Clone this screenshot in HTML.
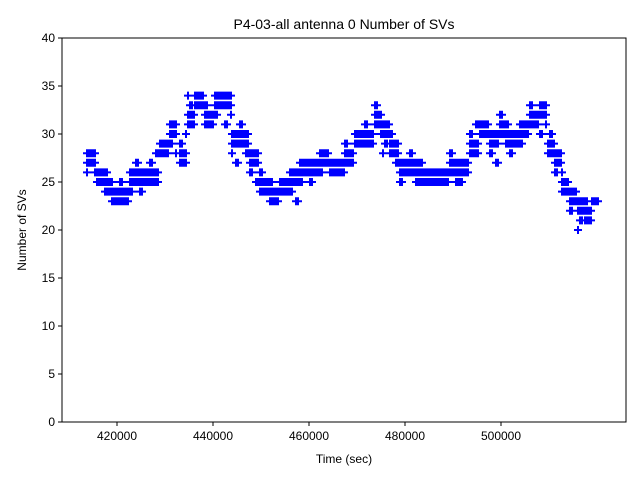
<!DOCTYPE html>
<html><head><style>body{margin:0;background:#fff}</style></head><body>
<svg id="s" width="640" height="480" xmlns="http://www.w3.org/2000/svg" font-family="Liberation Sans, DejaVu Sans, sans-serif">
<rect width="640" height="480" fill="#fff"/>
<g id="d" stroke="#0000ff" stroke-width="2"></g>
<rect x="62" y="38" width="564" height="384" fill="none" stroke="#000" stroke-width="1"/>
<g stroke="#000" id="t"></g>
<g font-size="12" fill="#000" id="tl"></g>
<text x="344" y="29" font-size="14" text-anchor="middle">P4-03-all antenna 0 Number of SVs</text>
<text x="344" y="463" font-size="12" text-anchor="middle">Time (sec)</text>
<text transform="translate(26,230) rotate(-90)" font-size="12" text-anchor="middle">Number of SVs</text>
</svg>
<script>
var ns="http://www.w3.org/2000/svg";
function el(p,n,a,txt){var e=document.createElementNS(ns,n);for(var k in a)e.setAttribute(k,a[k]);if(txt!=null)e.textContent=txt;document.getElementById(p).appendChild(e);}
for(var v=0;v<=40;v+=5){var y=422-9.6*v;el('t','line',{x1:58,x2:62,y1:y,y2:y});el('tl','text',{x:55,y:y+4,'text-anchor':'end'},v);}
for(var i=0;i<5;i++){var x=117+96*i;el('t','line',{x1:x,x2:x,y1:422,y2:426});el('tl','text',{x:x,y:440,'text-anchor':'middle'},420000+20000*i);}
var seg=[[87,97,[28,27,26]],[97,105,[26,25]],[105,112,[25,24,26]],[112,120,[24,23,25]],[120,130,[24,23,25]],[130,140,[25,26,24,27]],[140,150,[25,26,24]],[150,160,[25,26,27,28]],[160,170,[29,28]],[170,178,[30,31,29,28]],[180,188,[28,27,29,30]],[188,195,[31,32,33,34]],[195,205,[34,33]],[205,215,[32,31,33]],[215,225,[33,34,32]],[225,232,[34,33,31,32]],[232,240,[30,29,28,27]],[240,250,[29,30,31,28]],[250,260,[27,28,26,25]],[260,270,[25,24,26]],[270,280,[24,23,25]],[280,290,[25,24]],[290,300,[25,26,24,23]],[300,310,[26,27,25]],[310,320,[27,26,25]],[320,330,[27,28,26]],[330,345,[26,27]],[345,355,[28,27,29]],[355,365,[29,30]],[365,375,[30,29,31]],[375,383,[31,32,33,30]],[383,390,[30,31,29,28]],[390,400,[28,29,30,27]],[400,410,[27,26,25]],[410,420,[26,27,28,25]],[420,430,[26,25,27]],[430,440,[25,26]],[440,450,[26,25]],[450,460,[26,27,28,25]],[460,470,[27,26,25]],[470,480,[28,29,30,31]],[480,490,[31,30]],[490,500,[30,29,28,27]],[500,510,[31,30,32,29]],[510,520,[30,29,28]],[520,530,[30,31,29]],[530,540,[31,32,33]],[540,548,[33,32,30,31]],[548,555,[29,28,30]],[555,562,[28,27,26]],[562,570,[25,24,26]],[570,578,[23,24,22]],[578,585,[23,22,21,20]],[585,592,[22,21,23]],[592,600,[23]]];
var d="";
seg.forEach(function(s){
 for(var x=s[0];x<s[1];x+=2){
  s[2].forEach(function(v,j){
   if(j>=2 && ((x*7+j*13)%5)>1) return;
   var y=422-9.6*v;
   d+="M"+(x-4)+" "+y+"h8M"+x+" "+(y-4)+"v8";
  });
 }
});
el('d','path',{d:d,fill:'none'});
</script>
</body></html>
